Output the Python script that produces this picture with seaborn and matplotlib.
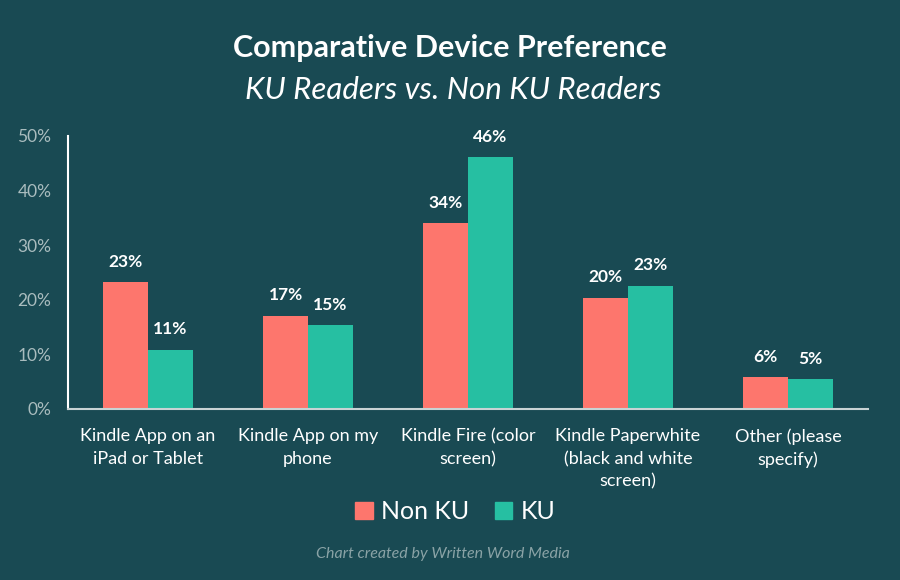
import numpy as np
import pandas as pd
import matplotlib
matplotlib.use("Agg")
import matplotlib.pyplot as plt
import seaborn as sns

categories = ["Kindle App on an\niPad or Tablet", "Kindle App on my\nphone",
              "Kindle Fire (color\nscreen)", "Kindle Paperwhite\n(black and white\nscreen)",
              "Other (please\nspecify)"]
non_ku = [23.2, 17.1, 34.0, 20.4, 5.8]
ku = [10.8, 15.3, 46.1, 22.6, 5.4]
series = ["Non KU", "KU"]
y_ticks = [0, 10, 20, 30, 40, 50]

bg = "#194a53"
colors = {"Non KU": "#fd766d", "KU": "#26bfa2"}

df = pd.DataFrame({
    "category": categories * 2,
    "value": non_ku + ku,
    "group": ["Non KU"] * len(categories) + ["KU"] * len(categories),
})

sns.set_style("dark")
plt.rcParams["font.family"] = ["Lato", "DejaVu Sans"]

fig = plt.figure(figsize=(9, 5.8), dpi=100, facecolor=bg)
ax = fig.add_axes([0.0756, 0.295, 0.8889, 0.4707])
ax.set_facecolor(bg)

sns.barplot(data=df, x="category", y="value", hue="group", hue_order=series,
            palette=colors, width=0.56, saturation=1, ax=ax, legend=False,
            linewidth=0)

for cont in ax.containers:
    labels = ["%d%%" % round(b.get_height()) for b in cont]
    ax.bar_label(cont, labels=labels, padding=9, color="white", fontsize=12.5,
                 fontweight="bold")

ax.set_ylim(0, 50)
ax.set_xlim(-0.5, 4.5)
ax.set_yticks(y_ticks)
ax.set_yticklabels(["%d%%" % t for t in y_ticks], color="#a9bcbe", fontsize=12.5)
ax.set_xticks(range(len(categories)))
ax.set_xticklabels(categories, color="white", fontsize=13, linespacing=1.5)
ax.set_xticks(np.arange(-0.5, 5, 1), minor=True)
ax.tick_params(axis="x", which="major", length=0, pad=14)
ax.tick_params(axis="x", which="minor", length=5, width=1.5, color="#c8d3d4", direction="out")
ax.tick_params(axis="y", length=0, pad=12)
ax.set_xlabel("")
ax.set_ylabel("")
ax.grid(False)
for s in ["top", "right"]:
    ax.spines[s].set_visible(False)
ax.spines["left"].set_color("white")
ax.spines["left"].set_linewidth(1.5)
ax.spines["bottom"].set_color("#c8d3d4")
ax.spines["bottom"].set_linewidth(1.5)

fig.text(0.5, 0.918, "Comparative Device Preference", ha="center", va="center",
         color="white", fontsize=22, fontweight="bold")
fig.text(0.503, 0.845, "KU Readers vs. Non KU Readers", ha="center", va="center",
         color="white", fontsize=22.5, fontstyle="italic")

handles = [plt.Rectangle((0, 0), 1, 1, color=colors[s]) for s in series]
fig.legend(handles, series, loc="center", bbox_to_anchor=(0.506, 0.118), ncol=2,
           frameon=False, fontsize=18, labelcolor="white", handlelength=0.7,
           handleheight=0.7, handletextpad=0.35, columnspacing=1.0)

fig.text(0.492, 0.045, "Chart created by Written Word Media", ha="center", va="center",
         color="#8aa3a6", fontsize=11.5, fontstyle="italic")

fig.savefig("out.png", dpi=100, facecolor=bg)
